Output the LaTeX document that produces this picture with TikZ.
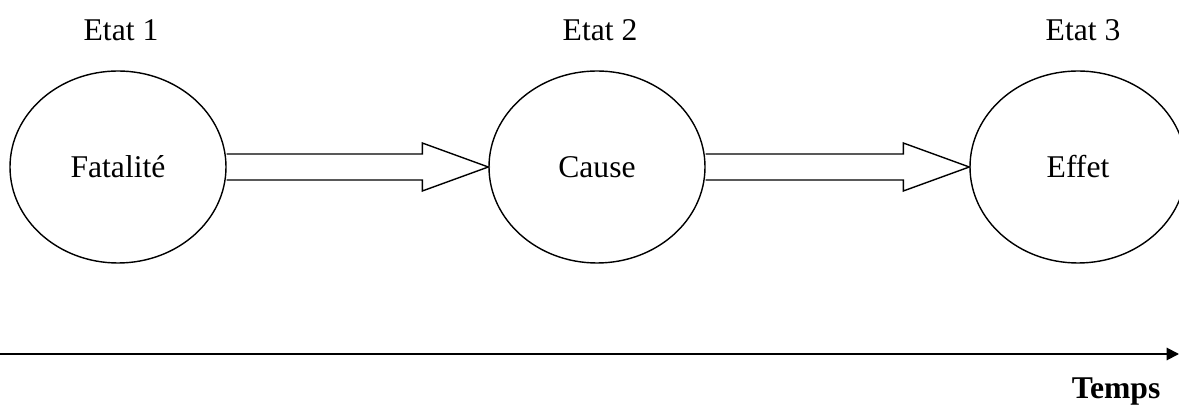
\documentclass[tikz,border=0pt]{standalone}
\usepackage{fontspec}
\setmainfont{Liberation Serif}
\usetikzlibrary{shapes.geometric,arrows.meta,calc}

\begin{document}
\begin{tikzpicture}
		\tikzstyle{every node} = [font = \fontsize{18}{21}\selectfont]
		\tikzstyle{etat} = [draw, ellipse, line width = .8pt, inner sep = 0pt, minimum width = 4.32cm, minimum height = 3.84cm]
		\tikzstyle{fleche} = [draw, line width = .8pt, line join = miter]
		\useasboundingbox (0,0) rectangle (23.58,-8.12);

		% les trois etats
		\node[etat] (e1) at (2.36,-3.34) {Fatalit\'e};
		\node[etat] (e2) at (11.94,-3.34) {Cause};
		\node[etat] (e3) at (21.56,-3.34) {Effet};
		\node (t1) at (2.42,-.6) {Etat 1};
		\node (t2) at (12.0,-.6) {Etat 2};
		\node (t3) at (21.66,-.6) {Etat 3};

		% fleches entre les etats
		\foreach \a/\b in {e1/e2, e2/e3}
		{
			\path[fleche] ($(\a.east)+(0,.26)$) -- ($(\b.west)+(-1.32,.26)$) -- ($(\b.west)+(-1.32,.48)$)
				-- (\b.west) -- ($(\b.west)+(-1.32,-.48)$) -- ($(\b.west)+(-1.32,-.26)$)
				-- ($(\a.east)+(0,-.26)$);
		}

		% axe du temps
		\coordinate (t0) at (0,-7.08);
		\coordinate (tfin) at (23.58,-7.08);
		\draw[line width = 1.1pt, -{Triangle[length=7pt,width=7pt]}] (t0) -- (tfin);
		\node[anchor = east, font = \fontsize{18}{21}\selectfont\bfseries] (temps) at (23.33,-7.84) {Temps};
	\end{tikzpicture}
\end{document}
